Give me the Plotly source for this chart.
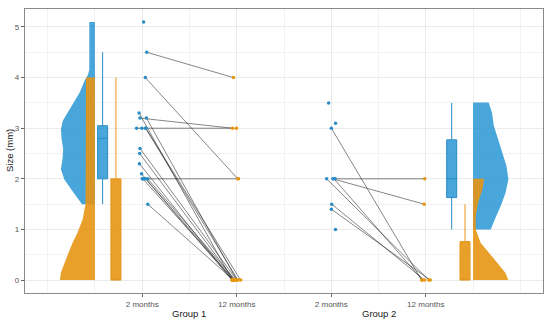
import numpy as np
import plotly.graph_objects as go

# ---------------- data ----------------
tick_labels = ["2 months", "12 months", "2 months", "12 months"]
group_labels = ["Group 1", "Group 2"]

# paired sizes (mm); None = missing at that time point
g1_2m = [5.1, 4.5, 4.0, 3.3, 3.2, 3.2, 3.0, 3.0, 3.0, 3.0, 2.6, 2.5, 2.3, 2.1, 2.0, 2.0, 2.0, 2.0, 2.0, 1.5]
g1_12m = [None, 4.0, 2.0, 0, 3.0, 0, 3.0, 0, 0, None, 0, 0, 0, 0, 2.0, 0, 0, 0, None, 0]
g2_2m = [3.5, 3.1, 3.0, 2.0, 2.0, 2.0, 2.0, 1.5, 1.4, 1.0]
g2_12m = [None, None, 0, 2.0, 1.5, 0, 0, 0, 0, None]

# box statistics [q1, median, q3, lower whisker, upper whisker]
box_g1_2m = [2.0, 2.8, 3.05, 1.5, 4.5]
box_g1_12m = [0.0, 0.0, 2.0, 0.0, 4.0]
box_g2_2m = [1.63, 2.0, 2.77, 1.0, 3.5]
box_g2_12m = [0.0, 0.0, 0.76, 0.0, 1.5]

# half-violin density profiles (level, half width)
vio_g1_2m_y = [1.5, 1.53, 1.63, 1.8, 1.99, 2.19, 2.39, 2.59, 2.79, 2.98, 3.15, 3.31, 3.51, 3.71, 3.94, 4.05, 4.15, 5.1]
vio_g1_2m_d = [0.14, 0.148, 0.184, 0.254, 0.325, 0.36, 0.343, 0.336, 0.353, 0.36, 0.34, 0.29, 0.22, 0.16, 0.11, 0.075, 0.06, 0.06]
vio_g1_12m_y = [0, 0.15, 0.34, 0.54, 0.74, 0.94, 1.2, 1.5, 2.0, 3.0, 4.0]
vio_g1_12m_d = [0.37, 0.36, 0.325, 0.28, 0.236, 0.184, 0.13, 0.1, 0.098, 0.095, 0.095]
vio_g2_2m_y = [1.0, 1.24, 1.47, 1.73, 1.99, 2.26, 2.52, 2.79, 3.05, 3.31, 3.51]
vio_g2_2m_d = [0.187, 0.24, 0.294, 0.345, 0.374, 0.353, 0.31, 0.258, 0.22, 0.2, 0.165]
vio_g2_12m_y = [0, 0.15, 0.34, 0.54, 0.74, 1.0, 1.27, 1.53, 1.8, 2.0]
vio_g2_12m_d = [0.374, 0.34, 0.258, 0.169, 0.08, 0.029, 0.029, 0.053, 0.1, 0.117]

# ---------------- styling ----------------
BLUE_FILL = "rgba(41,150,211,0.85)"
ORANGE_FILL = "rgba(230,150,20,0.9)"
BLUE_LINE = "#2a8cc6"
ORANGE_LINE = "#e5951a"
BLUE_PT = "#2a8cc6"
ORANGE_PT = "#e8960e"
FONT = "Liberation Sans, Arial, sans-serif"

fig = go.Figure()


def half_violin(base, ys, ds, direction, color):
    xs = [base] + [base + direction * d for d in ds] + [base]
    yy = [ys[0]] + list(ys) + [ys[-1]]
    fig.add_trace(go.Scatter(x=xs, y=yy, mode="lines", fill="toself",
                             fillcolor=color, line=dict(width=0),
                             hoverinfo="skip", showlegend=False))


half_violin(0.5, vio_g1_2m_y, vio_g1_2m_d, -1, BLUE_FILL)
half_violin(0.5, vio_g1_12m_y, vio_g1_12m_d, -1, ORANGE_FILL)
half_violin(4.5, vio_g2_2m_y, vio_g2_2m_d, 1, BLUE_FILL)
half_violin(4.5, vio_g2_12m_y, vio_g2_12m_d, 1, ORANGE_FILL)


def box(pos, stats, fill, line):
    q1, med, q3, lo, hi = stats
    fig.add_trace(go.Box(x=[pos], q1=[q1], median=[med], q3=[q3],
                         lowerfence=[lo], upperfence=[hi], width=0.106,
                         fillcolor=fill, line=dict(color=line, width=1),
                         whiskerwidth=0, boxpoints=False, showlegend=False,
                         hoverinfo="skip"))


box(0.581, box_g1_2m, BLUE_FILL, BLUE_LINE)
box(0.722, box_g1_12m, ORANGE_FILL, ORANGE_LINE)
box(4.274, box_g2_2m, BLUE_FILL, BLUE_LINE)
box(4.415, box_g2_12m, ORANGE_FILL, ORANGE_LINE)

# jittered points + connecting lines
rng = np.random.default_rng(7)


def paired(pos_a, pos_b, va, vb):
    ja = pos_a + rng.uniform(-0.06, 0.06, len(va))
    jb = pos_b + rng.uniform(-0.05, 0.05, len(vb))
    lx, ly = [], []
    for i in range(len(va)):
        if va[i] is not None and vb[i] is not None:
            lx += [ja[i], jb[i], None]
            ly += [va[i], vb[i], None]
    fig.add_trace(go.Scatter(x=lx, y=ly, mode="lines",
                             line=dict(color="rgba(30,30,30,0.6)", width=0.9),
                             hoverinfo="skip", showlegend=False))
    ax = [ja[i] for i in range(len(va)) if va[i] is not None]
    ay = [v for v in va if v is not None]
    bx = [jb[i] for i in range(len(vb)) if vb[i] is not None]
    by = [v for v in vb if v is not None]
    fig.add_trace(go.Scatter(x=ax, y=ay, mode="markers",
                             marker=dict(color=BLUE_PT, size=3.5),
                             showlegend=False))
    fig.add_trace(go.Scatter(x=bx, y=by, mode="markers",
                             marker=dict(color=ORANGE_PT, size=3.5),
                             showlegend=False))


paired(1, 2, g1_2m, g1_12m)
paired(3, 4, g2_2m, g2_12m)

axis_common = dict(showline=True, mirror=True, linecolor="#8a8a8a", linewidth=1.2,
                   ticks="outside", ticklen=3, tickcolor="#666666", tickwidth=1,
                   tickfont=dict(family=FONT, size=8, color="#555555"),
                   showgrid=True, gridcolor="#ebebeb", gridwidth=1, zeroline=False)

fig.update_layout(
    width=550, height=321,
    margin=dict(l=25, r=7, t=9, b=28),
    paper_bgcolor="white", plot_bgcolor="white",
    showlegend=False, boxmode="overlay",
    xaxis=dict(range=[-0.24, 5.24], tickmode="array", tickvals=[1, 2, 3, 4],
               ticktext=tick_labels,
               minor=dict(tick0=0, dtick=0.5, showgrid=True, gridcolor="#f2f2f2",
                          gridwidth=1, ticks=""),
               **axis_common),
    yaxis=dict(range=[-0.255, 5.355], tick0=0, dtick=1,
               minor=dict(tick0=0, dtick=0.5, showgrid=True, gridcolor="#f2f2f2",
                          gridwidth=1, ticks=""),
               **axis_common),
)

for gx, lab in zip([1.5, 3.5], group_labels):
    fig.add_annotation(x=gx, xref="x", y=0, yref="paper", yanchor="top",
                       yshift=-13, text=lab, showarrow=False,
                       font=dict(family=FONT, size=9.5, color="#1a1a1a"))

fig.add_annotation(x=0, xref="paper", y=0.5, yref="paper", xanchor="center",
                   xshift=-16, text="Size (mm)", textangle=-90, showarrow=False,
                   font=dict(family=FONT, size=9.5, color="#1a1a1a"))

fig.write_html("out.html", config={"displayModeBar": False},
               post_script="document.body.style.margin='0';"
                           "document.body.style.overflow='hidden';")
